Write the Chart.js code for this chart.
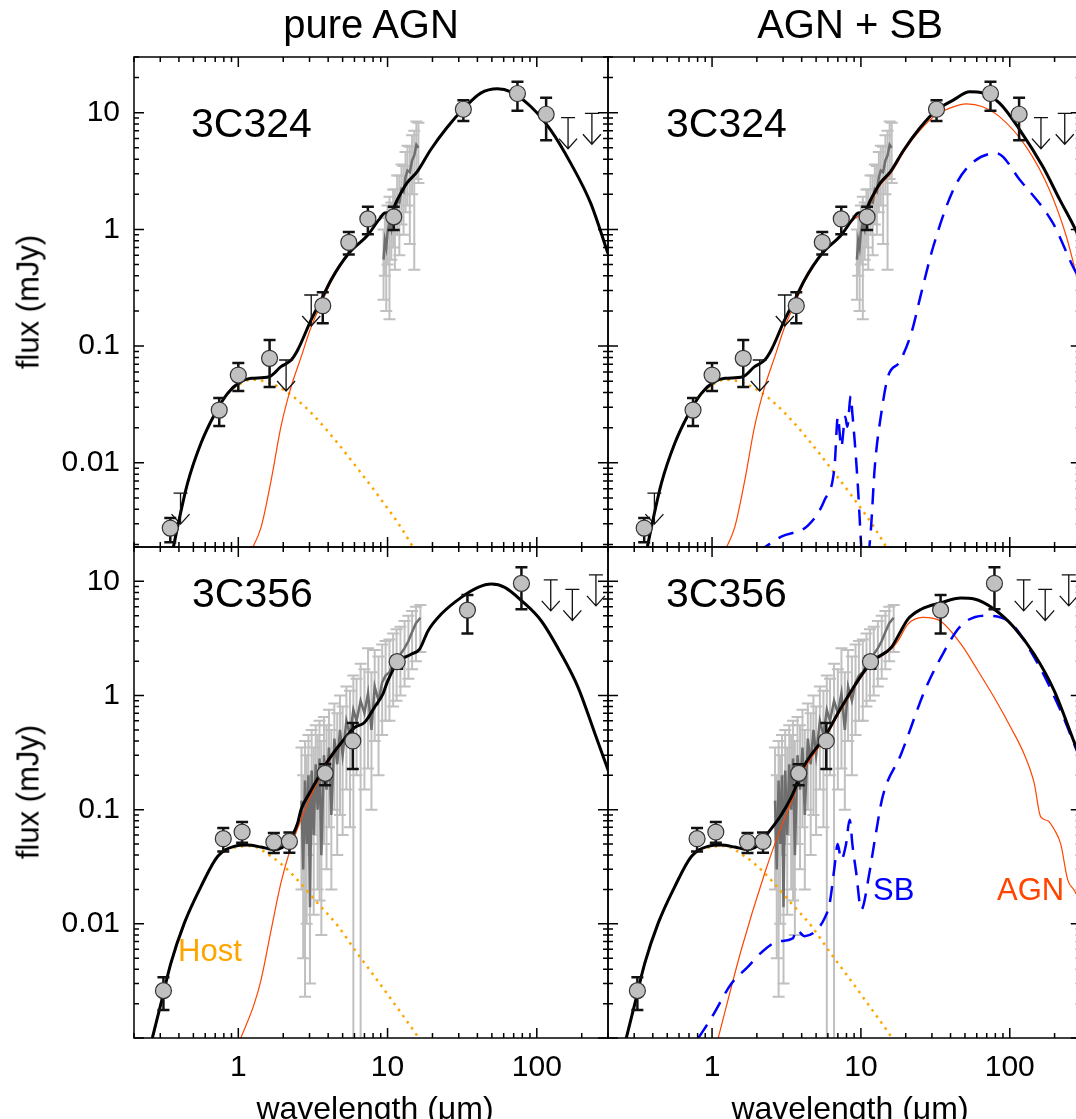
<!DOCTYPE html>
<html>
<head>
<meta charset="utf-8">
<script src="https://cdn.jsdelivr.net/npm/chart.js@4.4.1/dist/chart.umd.min.js"></script>
<style>
  html, body { margin: 0; padding: 0; background: #fff; }
  #fig { position: relative; width: 1076px; height: 1119px; overflow: hidden; font-family: "Liberation Sans", Arial, sans-serif; }
  #fig canvas { position: absolute; left: 0; top: 0; }
  .lbl { position: absolute; line-height: 1; white-space: nowrap; color: #000; }
  .mid { transform: translateX(-50%); }
  .ylab { font-size: 31px; transform: translate(-50%, -50%) rotate(-90deg); }
</style>
</head>
<body>
<div id="fig">
  <canvas id="tl" width="1090" height="1119"></canvas>
  <canvas id="tr" width="1090" height="1119"></canvas>
  <canvas id="bl" width="1090" height="1119"></canvas>
  <canvas id="br" width="1090" height="1119"></canvas>

  <div class="lbl mid" style="left:371px; top:4px; font-size:40px">pure AGN</div>
  <div class="lbl mid" style="left:850px; top:4px; font-size:40px">AGN + SB</div>
  <div class="lbl ylab" style="left:28px; top:302px">flux (mJy)</div>
  <div class="lbl ylab" style="left:28px; top:792px">flux (mJy)</div>
  <div class="lbl mid" style="left:375px; top:1092px; font-size:32px">wavelength (&mu;m)</div>
  <div class="lbl mid" style="left:850px; top:1092px; font-size:32px">wavelength (&mu;m)</div>

  <div class="lbl" style="left:191px; top:103px; font-size:41px">3C324</div>
  <div class="lbl" style="left:666px; top:103px; font-size:41px">3C324</div>
  <div class="lbl" style="left:192px; top:573px; font-size:41px">3C356</div>
  <div class="lbl" style="left:666px; top:573px; font-size:41px">3C356</div>

  <div class="lbl" style="left:178px; top:935px; font-size:31px; color:#ffa500">Host</div>
  <div class="lbl" style="left:873px; top:874px; font-size:31px; color:#0000ff">SB</div>
  <div class="lbl" style="left:997px; top:874px; font-size:31px; color:#ff4500">AGN</div>
</div>

<script>
// ---- axis set-up ----
const xRange = [0.2, 300];
const topRange = [0.0019, 30];
const bottomRange = [0.001, 20];
const xLabelTicks = [1, 10, 100];
const yLabelTicks = [0.01, 0.1, 1, 10];

// ---- 3C324 photometry ----
const c324Wave = [0.35, 0.745, 1.0, 1.62, 3.68, 5.5, 7.38, 11.0, 32.2, 74.2, 115.5];
const c324Flux = [0.00276, 0.0283, 0.0565, 0.0786, 0.222, 0.775, 1.23, 1.28, 10.7, 14.6, 9.7];
const c324Hi = [0.00337, 0.0359, 0.0716, 0.113, 0.29, 0.95, 1.56, 1.56, 12.8, 18.4, 13.4];
const c324Lo = [0.00209, 0.0207, 0.0412, 0.0447, 0.157, 0.61, 0.91, 0.99, 8.5, 10.4, 5.8];
const c324LimWave = [0.41, 2.09, 3.08, 162, 234];
const c324LimFlux = [0.0055, 0.076, 0.274, 9.06, 9.88];

// ---- 3C324 IRS spectrum ----
const c324SpecWave = [9.4, 9.6, 9.8, 10.0, 10.3, 10.6, 10.9, 11.2, 11.6, 12.0, 12.4, 12.8, 13.2, 13.6, 14.1, 14.6, 15.1, 15.6, 16.1];
const c324SpecFlux = [0.55, 0.8, 0.7, 0.95, 1.15, 1.0, 1.35, 1.3, 1.75, 1.7, 2.2, 2.1, 2.8, 3.2, 3.1, 3.9, 4.3, 5.3, 5.0];
const c324SpecHi = [1.0, 1.3, 1.25, 1.6, 1.9, 1.7, 2.2, 2.2, 2.9, 2.9, 3.6, 3.5, 4.6, 5.2, 5.1, 6.4, 7.0, 8.4, 8.2];
const c324SpecLo = [0.25, 0.4, 0.2, 0.5, 0.17, 0.55, 0.7, 0.45, 0.9, 0.6, 1.1, 0.9, 1.4, 1.6, 0.75, 2.0, 0.45, 2.7, 2.5];

// ---- 3C324 models ----
const c324HostWave = [0.35, 0.40, 0.457, 0.562, 0.69, 0.848, 1.04, 1.22, 1.5, 1.74, 2.09, 2.7, 3.41, 4.64, 6.31, 8.6, 12.4, 16.0];
const c324HostFlux = [0.0014, 0.0032, 0.0067, 0.0147, 0.0257, 0.039, 0.048, 0.0516, 0.05, 0.0466, 0.0409, 0.0315, 0.0233, 0.0147, 0.0089, 0.0053, 0.00275, 0.0016];

const c324TotAWave = [0.35, 0.40, 0.457, 0.562, 0.69, 0.848, 1.04, 1.22, 1.61, 1.93, 2.26, 2.5, 3.07, 3.59, 4.18, 5.5, 7.4, 8.7, 9.6, 10.5, 11.6, 13.5, 15.8, 19.4, 24.8, 32.5, 42.1, 54.5, 66.9, 91.1, 124, 169, 230, 300];
const c324TotAFlux = [0.0014, 0.0032, 0.0067, 0.0147, 0.0257, 0.0394, 0.0496, 0.053, 0.0547, 0.0667, 0.076, 0.0927, 0.167, 0.248, 0.369, 0.624, 0.9, 1.2, 1.38, 1.4, 1.79, 2.5, 3.12, 4.79, 7.35, 10.9, 14.7, 16.0, 15.1, 11.3, 7.1, 3.68, 1.67, 0.62];
const c324AgnAWave = [1.2, 1.42, 1.66, 1.93, 2.26, 2.63, 3.07, 3.59, 4.18, 5.5, 7.4, 8.7, 9.6, 10.5, 11.6, 13.5, 15.8, 19.4, 24.8, 32.5, 42.1, 54.5, 66.9, 91.1, 124, 169, 230, 300];
const c324AgnAFlux = [0.0017, 0.0028, 0.0071, 0.0204, 0.045, 0.08, 0.145, 0.23, 0.355, 0.615, 0.895, 1.2, 1.38, 1.4, 1.79, 2.5, 3.12, 4.79, 7.35, 10.9, 14.7, 16.0, 15.1, 11.3, 7.1, 3.68, 1.67, 0.62];

const c324TotBWave = [0.35, 0.40, 0.457, 0.562, 0.69, 0.848, 1.04, 1.22, 1.61, 1.93, 2.26, 2.5, 3.07, 3.59, 4.18, 5.5, 7.4, 8.7, 9.6, 10.5, 11.6, 13.5, 15.8, 19.4, 24.8, 32.2, 41.7, 53.9, 66.2, 85.7, 117, 167, 217, 277, 300];
const c324TotBFlux = [0.0014, 0.0032, 0.0067, 0.0147, 0.0257, 0.0394, 0.0496, 0.053, 0.0547, 0.0667, 0.076, 0.0927, 0.167, 0.248, 0.369, 0.624, 0.9, 1.2, 1.38, 1.4, 1.79, 2.5, 3.12, 4.79, 7.35, 10.5, 12.8, 15.1, 14.7, 12.0, 7.1, 3.44, 1.79, 0.99, 0.78];
const c324AgnBWave = [1.2, 1.42, 1.66, 1.93, 2.26, 2.63, 3.07, 3.59, 4.18, 5.5, 7.4, 8.7, 9.6, 10.5, 11.6, 13.5, 15.8, 19.4, 22.4, 30.6, 40, 51.2, 65, 85.7, 129, 185, 240, 277, 300];
const c324AgnBFlux = [0.0017, 0.0028, 0.0071, 0.0204, 0.045, 0.08, 0.145, 0.23, 0.355, 0.615, 0.89, 1.18, 1.3, 1.35, 1.7, 2.4, 3.0, 4.6, 6.0, 9.2, 11.0, 11.9, 11.3, 9.2, 5.1, 2.18, 0.87, 0.434, 0.3];
const c324SbWave = [2.0, 2.92, 4.4, 5.7, 6.65, 7.0, 7.38, 7.85, 8.1, 8.54, 8.76, 9.07, 9.55, 10.05, 10.6, 11.4, 11.7, 12.4, 13.7, 15.2, 18.2, 21.8, 25.4, 30.6, 41.7, 53.9, 81.5, 117, 195, 266, 300];
const c324SbFlux = [0.0017, 0.00233, 0.0029, 0.0048, 0.0093, 0.0248, 0.0137, 0.0248, 0.0204, 0.0373, 0.0265, 0.0157, 0.0062, 0.0019, 0.0007, 0.0019, 0.0028, 0.0093, 0.0265, 0.0547, 0.0735, 0.129, 0.283, 0.71, 2.18, 3.56, 4.49, 2.65, 1.13, 0.479, 0.36];

// ---- 3C356 photometry ----
const c356Wave = [0.315, 0.793, 1.06, 1.73, 2.2, 3.82, 5.85, 11.6, 34.3, 78.9];
const c356Flux = [0.0026, 0.0557, 0.0637, 0.0521, 0.0527, 0.208, 0.40, 1.98, 5.6, 9.6];
const c356Hi = [0.0034, 0.069, 0.0779, 0.0625, 0.063, 0.25, 0.574, 2.2, 7.58, 13.3];
const c356Lo = [0.00176, 0.043, 0.0512, 0.0417, 0.042, 0.164, 0.227, 1.72, 3.5, 5.7];
const c356LimWave = [124, 173, 249];
const c356LimFlux = [10.3, 8.5, 11.4];

// ---- 3C356 IRS spectrum ----
const c356SpecWave = [2.65, 2.72, 2.8, 2.87, 2.95, 3.02, 3.1, 3.2, 3.3, 3.4, 3.5, 3.6, 3.75, 3.9, 4.05, 4.2, 4.4, 4.6, 4.8, 5.0, 5.3, 5.6, 5.9, 6.2, 6.6, 7.0, 7.4, 7.8, 8.2, 8.7, 9.2, 9.7, 10.3, 10.9, 11.5, 12.2, 13.0, 13.8, 14.6, 15.5, 16.6];
const c356SpecFlux = [0.12, 0.03, 0.18, 0.05, 0.2, 0.014, 0.22, 0.06, 0.25, 0.1, 0.28, 0.04, 0.3, 0.15, 0.35, 0.09, 0.42, 0.25, 0.5, 0.3, 0.6, 0.45, 0.75, 0.6, 0.9, 0.7, 1.05, 0.5, 1.2, 0.9, 1.3, 1.5, 1.6, 1.9, 2.1, 2.3, 2.6, 3.0, 3.6, 4.3, 4.8];
const c356SpecHi = [0.35, 0.2, 0.4, 0.3, 0.45, 0.2, 0.5, 0.35, 0.55, 0.45, 0.6, 0.4, 0.65, 0.55, 0.75, 0.5, 0.85, 0.7, 1.0, 0.8, 1.2, 1.1, 1.5, 1.4, 1.9, 1.7, 2.6, 1.6, 2.5, 2.2, 2.8, 3.0, 3.1, 3.5, 3.8, 4.0, 4.5, 5.0, 5.5, 6.0, 6.2];
const c356SpecLo = [0.02, 0.005, 0.0023, 0.01, 0.04, 0.003, 0.05, 0.012, 0.06, 0.02, 0.016, 0.008, 0.05, 0.03, 0.07, 0.02, 0.1, 0.04, 0.09, 0.06, 0.15, 0.07, 0.0005, 0.2, 0.0005, 0.15, 0.23, 0.1, 0.4, 0.2, 0.45, 0.6, 0.6, 0.8, 0.9, 1.0, 1.2, 1.4, 1.7, 2.0, 2.4];

// ---- 3C356 models ----
const c356HostWave = [0.26, 0.303, 0.353, 0.434, 0.562, 0.726, 0.94, 1.22, 1.66, 1.93, 2.44, 3.32, 4.64, 6.16, 8.17, 11.1, 16.0, 17.0];
const c356HostFlux = [0.0009, 0.002, 0.0045, 0.0101, 0.0212, 0.0385, 0.0465, 0.048, 0.039, 0.0336, 0.025, 0.0157, 0.0096, 0.0057, 0.00347, 0.002, 0.00102, 0.0009];

const c356TotAWave = [0.26, 0.303, 0.353, 0.434, 0.562, 0.726, 0.94, 1.15, 1.42, 1.74, 2.14, 2.5, 2.63, 3.0, 3.5, 4.0, 5.0, 6.0, 7.0, 8.16, 9.3, 10.05, 11.7, 14.4, 16.4, 18.7, 22.9, 31.2, 40.4, 49.6, 61, 79, 107, 146, 189, 246, 302];
const c356TotAFlux = [0.0009, 0.002, 0.0045, 0.0101, 0.0212, 0.0389, 0.0477, 0.049, 0.0471, 0.0447, 0.0513, 0.0764, 0.1, 0.14, 0.2, 0.27, 0.4, 0.524, 0.58, 0.785, 1.03, 1.35, 1.95, 2.3, 2.55, 3.7, 5.17, 7.24, 8.86, 9.47, 8.86, 6.77, 4.52, 2.3, 1.18, 0.458, 0.218];
const c356AgnAWave = [1.04, 1.28, 1.42, 1.66, 1.93, 2.26, 2.63, 3.0, 3.5, 4.0, 5.0, 6.0, 7.0, 8.16, 9.3, 10.05, 11.7, 14.4, 16.4, 18.7, 22.9, 31.2, 40.4, 49.6, 61, 79, 107, 146, 189, 246, 302];
const c356AgnAFlux = [0.001, 0.002, 0.00323, 0.00886, 0.0228, 0.0477, 0.0818, 0.125, 0.19, 0.26, 0.39, 0.515, 0.575, 0.78, 1.03, 1.35, 1.95, 2.3, 2.55, 3.7, 5.17, 7.24, 8.86, 9.47, 8.86, 6.77, 4.52, 2.3, 1.18, 0.458, 0.218];

const c356TotBWave = [0.26, 0.303, 0.353, 0.434, 0.562, 0.726, 0.94, 1.15, 1.42, 1.74, 2.14, 2.38, 2.92, 3.59, 3.88, 5.85, 7.37, 11.7, 16.0, 18.6, 20.7, 25.4, 34.5, 47, 57.7, 78.6, 107, 146, 199, 277, 300];
const c356TotBFlux = [0.0009, 0.002, 0.0045, 0.0101, 0.0212, 0.0389, 0.0477, 0.049, 0.0471, 0.0447, 0.0513, 0.0625, 0.0903, 0.15, 0.204, 0.458, 0.785, 1.95, 2.64, 3.7, 4.67, 5.7, 6.5, 7.14, 7.0, 5.7, 3.95, 2.3, 1.1, 0.362, 0.28];
const c356AgnBWave = [1.1, 1.57, 2.26, 2.92, 3.59, 3.88, 5.85, 7.37, 11.7, 16.0, 17.7, 20.7, 26.1, 34.5, 47, 61.1, 78.6, 102, 125, 146, 161, 180, 199, 220, 245, 271, 300];
const c356AgnBFlux = [0.001, 0.0059, 0.0279, 0.0714, 0.14, 0.19, 0.44, 0.75, 1.88, 2.55, 3.0, 4.22, 4.83, 4.45, 2.82, 1.65, 0.96, 0.52, 0.306, 0.17, 0.087, 0.08, 0.067, 0.05, 0.0243, 0.0197, 0.015];
const c356SbWave = [0.81, 0.99, 1.35, 1.74, 2.14, 2.77, 3.5, 3.68, 4.18, 4.9, 5.7, 6.17, 6.65, 6.98, 7.37, 7.95, 8.4, 8.8, 9.3, 10.05, 11.4, 12.4, 14.0, 18.6, 26.8, 34.5, 47, 67.8, 97, 146, 220, 271, 300];
const c356SbFlux = [0.001, 0.0015, 0.003, 0.0042, 0.0056, 0.007, 0.0075, 0.0089, 0.0078, 0.0085, 0.0112, 0.0152, 0.0316, 0.05, 0.0365, 0.05, 0.0818, 0.0474, 0.028, 0.0133, 0.0279, 0.0545, 0.13, 0.306, 1.1, 2.16, 4.09, 5.0, 4.52, 2.16, 0.734, 0.374, 0.27];

// ---- helpers ----
const pts = (w, f) => w.map((x, i) => ({ x: x, y: f[i] }));

function spectrum(w, f, lo, hi) {
    return { data: pts(w, f), borderColor: '#6e6e6e', borderWidth: 2.5, pointRadius: 0,
             errLo: lo, errHi: hi, errColor: '#c0c0c0', errWidth: 2, cap: 6, order: 60 };
}
function model(w, f, color, width, dash, order) {
    return { data: pts(w, f), borderColor: color, borderWidth: width, borderDash: dash,
             pointRadius: 0, cubicInterpolationMode: 'monotone', order: order };
}
function photometry(w, f, lo, hi) {
    return { data: pts(w, f), showLine: false, pointRadius: 8, pointBackgroundColor: '#c0c0c0',
             pointBorderColor: '#333', pointBorderWidth: 1.2,
             errLo: lo, errHi: hi, errColor: '#111', errWidth: 2.5, cap: 6, order: 10 };
}
function limits(w, f) {
    return { data: pts(w, f), showLine: false, pointRadius: 0, upperLimit: true, order: 5 };
}

function logTicks(min, max) {
    const out = [];
    for (let d = Math.floor(Math.log10(min)); d <= Math.ceil(Math.log10(max)); d++) {
        for (let k = 1; k < 10; k++) {
            const v = k * Math.pow(10, d);
            if (v >= min * 0.999 && v <= max * 1.001) out.push([v, k === 1]);
        }
    }
    return out;
}

// error bars, upper-limit arrows, and the IDL-style frame with inward ticks
const sedPlugin = {
    id: 'sed',
    beforeDatasetDraw(chart, args) {
        const ds = chart.data.datasets[args.index];
        if (!ds.errLo) return;
        const { ctx, chartArea: a, scales: { x, y } } = chart;
        ctx.save();
        ctx.beginPath();
        ctx.rect(a.left, a.top, a.right - a.left, a.bottom - a.top);
        ctx.clip();
        ctx.strokeStyle = ds.errColor;
        ctx.lineWidth = ds.errWidth;
        ds.data.forEach((p, i) => {
            const px = x.getPixelForValue(p.x);
            const yh = y.getPixelForValue(ds.errHi[i]);
            const yl = y.getPixelForValue(ds.errLo[i]);
            ctx.beginPath();
            ctx.moveTo(px, yh); ctx.lineTo(px, yl);
            ctx.moveTo(px - ds.cap, yh); ctx.lineTo(px + ds.cap, yh);
            ctx.moveTo(px - ds.cap, yl); ctx.lineTo(px + ds.cap, yl);
            ctx.stroke();
        });
        ctx.restore();
    },
    afterDatasetDraw(chart, args) {
        const ds = chart.data.datasets[args.index];
        if (!ds.upperLimit) return;
        const { ctx, chartArea: a, scales: { x, y } } = chart;
        ctx.save();
        ctx.beginPath();
        ctx.rect(a.left, a.top, a.right - a.left, a.bottom - a.top);
        ctx.clip();
        ctx.strokeStyle = '#111';
        ctx.lineWidth = 1.3;
        ds.data.forEach(p => {
            const px = x.getPixelForValue(p.x);
            const py = y.getPixelForValue(p.y);
            const len = 31;
            ctx.beginPath();
            ctx.moveTo(px - 7, py); ctx.lineTo(px + 7, py);
            ctx.moveTo(px, py); ctx.lineTo(px, py + len);
            ctx.moveTo(px - 9, py + len - 10); ctx.lineTo(px, py + len); ctx.lineTo(px + 9, py + len - 10);
            ctx.stroke();
        });
        ctx.restore();
    },
    afterDraw(chart) {
        const { ctx, chartArea: a, scales: { x, y } } = chart;
        ctx.save();
        ctx.strokeStyle = '#000';
        ctx.lineWidth = 1.5;
        ctx.strokeRect(a.left, a.top, a.right - a.left, a.bottom - a.top);
        ctx.beginPath();
        logTicks(x.min, x.max).forEach(([v, major]) => {
            const px = x.getPixelForValue(v), len = major ? 10 : 5;
            ctx.moveTo(px, a.bottom); ctx.lineTo(px, a.bottom - len);
            ctx.moveTo(px, a.top); ctx.lineTo(px, a.top + len);
        });
        logTicks(y.min, y.max).forEach(([v, major]) => {
            const py = y.getPixelForValue(v), len = major ? 10 : 5;
            ctx.moveTo(a.left, py); ctx.lineTo(a.left + len, py);
            ctx.moveTo(a.right, py); ctx.lineTo(a.right - len, py);
        });
        ctx.stroke();
        ctx.restore();
    }
};

const tickFont = { family: '"Liberation Sans", Arial, sans-serif', size: 30 };
const CANVAS_W = 1090, CANVAS_H = 1119;

// the y axis fills all the room left of the panel, the x axis all the room below it,
// so the tick labels are not clipped away
function panel(id, box, yRange, showY, showX, datasets) {
    new Chart(document.getElementById(id), {
        type: 'line',
        data: { datasets: datasets },
        options: {
            responsive: false,
            animation: false,
            events: [],
            layout: { padding: { left: 0, top: box.t, right: CANVAS_W - box.r, bottom: 0 } },
            plugins: { legend: { display: false }, tooltip: { enabled: false } },
            scales: {
                x: {
                    type: 'logarithmic', min: xRange[0], max: xRange[1],
                    grid: { display: false, drawTicks: false }, border: { display: false },
                    ticks: { display: showX, autoSkip: false, maxRotation: 0, padding: 12, color: '#000',
                             font: tickFont, callback: v => String(v) },
                    afterBuildTicks: s => { s.ticks = xLabelTicks.map(v => ({ value: v })); },
                    afterFit: s => { s.height = CANVAS_H - box.b; s.paddingLeft = 0; s.paddingRight = 0; }
                },
                y: {
                    type: 'logarithmic', min: yRange[0], max: yRange[1],
                    grid: { display: false, drawTicks: false }, border: { display: false },
                    ticks: { display: showY, autoSkip: false, padding: 14, color: '#000',
                             font: tickFont, callback: v => String(v) },
                    afterBuildTicks: s => { s.ticks = yLabelTicks.map(v => ({ value: v })); },
                    afterFit: s => { s.width = box.l; s.paddingTop = 0; s.paddingBottom = 0; }
                }
            }
        },
        plugins: [sedPlugin]
    });
}

const ORANGE = '#ffa500', RED = '#ff4500', BLUE = '#0000ff';
const hostDash = [2.5, 5], sbDash = [16, 10];

panel('tl', { l: 134, r: 608, t: 57, b: 547 }, topRange, true, false, [
    spectrum(c324SpecWave, c324SpecFlux, c324SpecLo, c324SpecHi),
    model(c324HostWave, c324HostFlux, ORANGE, 2.5, hostDash, 50),
    model(c324AgnAWave, c324AgnAFlux, RED, 1.2, [], 40),
    model(c324TotAWave, c324TotAFlux, '#000', 3, [], 30),
    photometry(c324Wave, c324Flux, c324Lo, c324Hi),
    limits(c324LimWave, c324LimFlux)
]);

panel('tr', { l: 608, r: 1082, t: 57, b: 547 }, topRange, false, false, [
    spectrum(c324SpecWave, c324SpecFlux, c324SpecLo, c324SpecHi),
    model(c324HostWave, c324HostFlux, ORANGE, 2.5, hostDash, 50),
    model(c324AgnBWave, c324AgnBFlux, RED, 1.2, [], 40),
    model(c324SbWave, c324SbFlux, BLUE, 2.5, sbDash, 35),
    model(c324TotBWave, c324TotBFlux, '#000', 3, [], 30),
    photometry(c324Wave, c324Flux, c324Lo, c324Hi),
    limits(c324LimWave, c324LimFlux)
]);

panel('bl', { l: 134, r: 608, t: 547, b: 1038 }, bottomRange, true, true, [
    spectrum(c356SpecWave, c356SpecFlux, c356SpecLo, c356SpecHi),
    model(c356HostWave, c356HostFlux, ORANGE, 2.5, hostDash, 50),
    model(c356AgnAWave, c356AgnAFlux, RED, 1.2, [], 40),
    model(c356TotAWave, c356TotAFlux, '#000', 3, [], 30),
    photometry(c356Wave, c356Flux, c356Lo, c356Hi),
    limits(c356LimWave, c356LimFlux)
]);

panel('br', { l: 608, r: 1082, t: 547, b: 1038 }, bottomRange, false, true, [
    spectrum(c356SpecWave, c356SpecFlux, c356SpecLo, c356SpecHi),
    model(c356HostWave, c356HostFlux, ORANGE, 2.5, hostDash, 50),
    model(c356AgnBWave, c356AgnBFlux, RED, 1.2, [], 40),
    model(c356SbWave, c356SbFlux, BLUE, 2.5, sbDash, 35),
    model(c356TotBWave, c356TotBFlux, '#000', 3, [], 30),
    photometry(c356Wave, c356Flux, c356Lo, c356Hi),
    limits(c356LimWave, c356LimFlux)
]);
</script>
</body>
</html>
